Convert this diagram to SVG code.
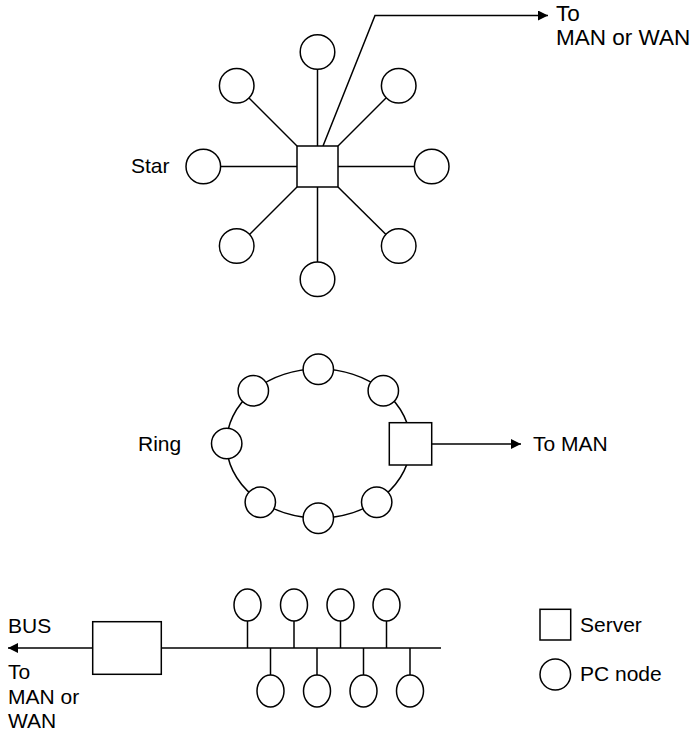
<svg xmlns="http://www.w3.org/2000/svg" width="694" height="731" viewBox="0 0 694 731">
<defs>
<marker id="arr" markerWidth="10" markerHeight="10" refX="10" refY="5" orient="auto" markerUnits="userSpaceOnUse">
<path d="M0,0 L10,5 L0,10 Z" fill="#000"/>
</marker>
</defs>
<style>
.n{fill:#fff;stroke:#000;stroke-width:1.5}
.c line,.c path,.c polyline{stroke:#000;stroke-width:1.5;fill:none}
text{font-family:"Liberation Sans",Arial,sans-serif;font-size:21px;fill:#000}
.big{font-size:22.5px}
</style>
<rect width="694" height="731" fill="#fff"/>
<g id="connectors" class="c">
<line x1="317.5" y1="69" x2="317.5" y2="146"/>
<line x1="249" y1="98" x2="297" y2="146"/>
<line x1="386" y1="98" x2="338" y2="146"/>
<line x1="220.5" y1="166.5" x2="297" y2="166.5"/>
<line x1="338" y1="166.5" x2="414.5" y2="166.5"/>
<line x1="297" y1="187" x2="249.5" y2="234.5"/>
<line x1="338" y1="187" x2="386" y2="234.5"/>
<line x1="317.5" y1="187" x2="317.5" y2="262"/>
<polyline points="323,146 375,15.5 548,15.5" marker-end="url(#arr)"/>
<ellipse cx="318.5" cy="443.5" rx="92" ry="74.5" style="stroke:#000;stroke-width:1.5;fill:none"/>
<line x1="432" y1="444" x2="521" y2="444" marker-end="url(#arr)"/>
<line x1="93" y1="648" x2="8" y2="648" marker-end="url(#arr)"/>
<line x1="161" y1="648" x2="441" y2="648"/>
<line x1="247.5" y1="621" x2="247.5" y2="648"/>
<line x1="294" y1="621" x2="294" y2="648"/>
<line x1="340.5" y1="621" x2="340.5" y2="648"/>
<line x1="386.5" y1="621" x2="386.5" y2="648"/>
<line x1="270.5" y1="648" x2="270.5" y2="675"/>
<line x1="317" y1="648" x2="317" y2="675"/>
<line x1="363.5" y1="648" x2="363.5" y2="675"/>
<line x1="410" y1="648" x2="410" y2="675"/>
</g>
<g id="star-server"><rect class="n" x="297" y="146" width="41" height="41"/></g>
<g id="star-pc-n"><circle class="n" cx="317.5" cy="52" r="17.3"/></g>
<g id="star-pc-nw"><circle class="n" cx="236.7" cy="85.7" r="17.3"/></g>
<g id="star-pc-ne"><circle class="n" cx="398.7" cy="85.7" r="17.3"/></g>
<g id="star-pc-w"><circle class="n" cx="203.3" cy="166.5" r="17.3"/></g>
<g id="star-pc-e"><circle class="n" cx="431.7" cy="166.5" r="17.3"/></g>
<g id="star-pc-sw"><circle class="n" cx="236.7" cy="246" r="17.3"/></g>
<g id="star-pc-se"><circle class="n" cx="398.7" cy="246" r="17.3"/></g>
<g id="star-pc-s"><circle class="n" cx="317.5" cy="279.3" r="17.3"/></g>
<g id="ring-pc-n"><circle class="n" cx="318.3" cy="369.3" r="15.2"/></g>
<g id="ring-pc-nw"><circle class="n" cx="253.3" cy="390.7" r="15.2"/></g>
<g id="ring-pc-ne"><circle class="n" cx="383.3" cy="390.7" r="15.2"/></g>
<g id="ring-pc-w"><circle class="n" cx="226.7" cy="443.5" r="15.2"/></g>
<g id="ring-pc-sw"><circle class="n" cx="260.3" cy="502.3" r="15.2"/></g>
<g id="ring-pc-s"><circle class="n" cx="318.3" cy="518.3" r="15.2"/></g>
<g id="ring-pc-se"><circle class="n" cx="376.7" cy="502.3" r="15.2"/></g>
<g id="ring-server"><rect class="n" x="389.3" y="422.7" width="42.4" height="42.3"/></g>
<g id="bus-server"><rect class="n" x="92.7" y="621.7" width="68.6" height="52.6"/></g>
<g id="bus-pc-t1"><ellipse class="n" cx="247.5" cy="605" rx="13.5" ry="16"/></g>
<g id="bus-pc-t2"><ellipse class="n" cx="294" cy="605" rx="13.5" ry="16"/></g>
<g id="bus-pc-t3"><ellipse class="n" cx="340.5" cy="605" rx="13.5" ry="16"/></g>
<g id="bus-pc-t4"><ellipse class="n" cx="386.5" cy="605" rx="13.5" ry="16"/></g>
<g id="bus-pc-b1"><ellipse class="n" cx="270.5" cy="691" rx="13.5" ry="16"/></g>
<g id="bus-pc-b2"><ellipse class="n" cx="317" cy="691" rx="13.5" ry="16"/></g>
<g id="bus-pc-b3"><ellipse class="n" cx="363.5" cy="691" rx="13.5" ry="16"/></g>
<g id="bus-pc-b4"><ellipse class="n" cx="410" cy="691" rx="13.5" ry="16"/></g>
<g id="legend-server"><rect class="n" x="540" y="609.3" width="30.7" height="30.7"/></g>
<g id="legend-pc"><ellipse class="n" cx="555.3" cy="674.5" rx="15.3" ry="15.5"/></g>
<g id="labels">
<text class="big" x="556" y="21">To</text>
<text class="big" x="556" y="45">MAN or WAN</text>
<text x="131" y="173">Star</text>
<text x="138" y="451">Ring</text>
<text x="533" y="451">To MAN</text>
<text x="8" y="633">BUS</text>
<text x="8" y="679">To</text>
<text x="8" y="704">MAN or</text>
<text x="8" y="728">WAN</text>
<text x="580" y="632">Server</text>
<text x="580" y="681">PC node</text>
</g>
</svg>
